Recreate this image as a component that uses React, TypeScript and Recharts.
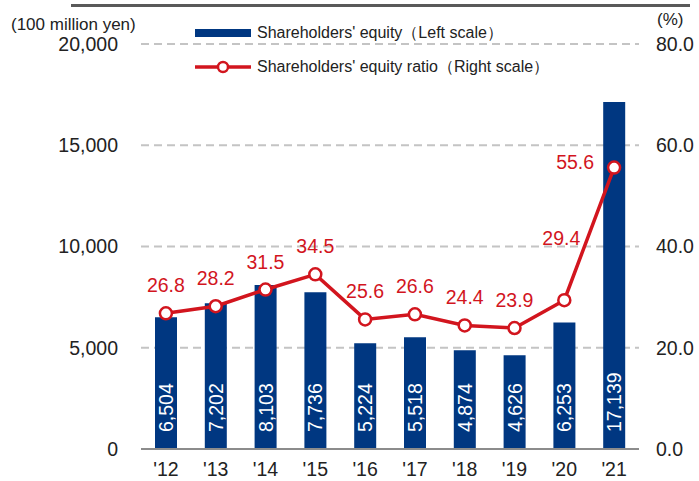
import { ComposedChart, Bar, Line, XAxis, YAxis, CartesianGrid, LabelList } from 'recharts';

const YEARS = ["'12", "'13", "'14", "'15", "'16", "'17", "'18", "'19", "'20", "'21"];
const EQUITY = [6504, 7202, 8103, 7736, 5224, 5518, 4874, 4626, 6253, 17139];
const RATIO = [26.8, 28.2, 31.5, 34.5, 25.6, 26.6, 24.4, 23.9, 29.4, 55.6];
const LEFT_TICKS = [0, 5000, 10000, 15000, 20000];
const RIGHT_TICKS = [0, 20, 40, 60, 80];

const BLUE = '#003781';
const RED = '#d2151e';
const FONT = '"Liberation Sans", Arial, sans-serif';

const data = YEARS.map((year, i) => ({ year, equity: EQUITY[i], ratio: RATIO[i] }));

// white value written upward inside the bar, starting near the bottom
const BarValue = (props: any) => {
  const { x, width, value, y, height } = props;
  const cx = x + width / 2;
  const by = y + height - 17;
  return (
    <text
      x={cx}
      y={by}
      transform={`rotate(-90 ${cx} ${by})`}
      textAnchor="start"
      dominantBaseline="central"
      fill="#fff"
      fontSize={19.5}
    >
      {value.toLocaleString('en-US')}
    </text>
  );
};

const RatioValue = (props: any) => {
  const { x, y, value, index } = props;
  let tx = x;
  let ty = y - 21;
  let anchor: 'middle' | 'end' = 'middle';
  if (index === 8) {
    tx = x - 3;
    ty = y - 55;
  }
  if (index === 9) {
    tx = x - 20;
    ty = y + 1;
    anchor = 'end';
  }
  return (
    <text x={tx} y={ty} textAnchor={anchor} fill={RED} fontSize={19.5}>
      {value.toFixed(1)}
    </text>
  );
};

export default function App() {
  return (
    <div style={{ position: 'absolute', left: 0, top: 0, width: 699, height: 481, fontFamily: FONT, background: '#fff' }}>
      <div style={{ position: 'absolute', left: 71, top: 4, width: 619, height: 3, background: '#595959' }} />
      <div style={{ position: 'absolute', left: 11, top: 15, fontSize: 17, lineHeight: '20px', color: '#222' }}>
        (100 million yen)
      </div>
      <div style={{ position: 'absolute', left: 657, top: 10, fontSize: 17, lineHeight: '20px', color: '#222' }}>(%)</div>

      <ComposedChart
        width={699}
        height={481}
        data={data}
        margin={{ top: 44, right: 0, bottom: 0, left: 0 }}
      >
        <CartesianGrid
          yAxisId="left"
          vertical={false}
          stroke="#c4c4c4"
          strokeWidth={2}
          strokeDasharray="8 5"
        />
        <XAxis
          dataKey="year"
          height={32}
          axisLine={{ stroke: '#8c8c8c', strokeWidth: 2 }}
          tickLine={false}
          tickMargin={7}
          tick={{ fill: '#222', fontSize: 19.5 }}
        />
        <YAxis
          yAxisId="left"
          width={141}
          domain={[0, 20000]}
          ticks={LEFT_TICKS}
          axisLine={false}
          tickLine={false}
          tickMargin={17}
          tick={{ fill: '#222', fontSize: 19.5 }}
          tickFormatter={(v: number) => v.toLocaleString('en-US')}
        />
        <YAxis
          yAxisId="right"
          orientation="right"
          width={60}
          domain={[0, 80]}
          ticks={RIGHT_TICKS}
          axisLine={false}
          tickLine={false}
          tickMargin={11}
          tick={{ fill: '#222', fontSize: 19.5 }}
          tickFormatter={(v: number) => v.toFixed(1)}
        />
        <Bar yAxisId="left" dataKey="equity" fill={BLUE} barSize={22} isAnimationActive={false}>
          <LabelList dataKey="equity" content={BarValue} />
        </Bar>
        <Line
          yAxisId="right"
          dataKey="ratio"
          stroke={RED}
          strokeWidth={3.5}
          dot={{ r: 6, fill: '#fff', stroke: RED, strokeWidth: 2.5 }}
          isAnimationActive={false}
          label={RatioValue}
        />
      </ComposedChart>

      <div style={{ position: 'absolute', left: 195, top: 16, fontSize: 16, color: '#222' }}>
        <div style={{ display: 'flex', alignItems: 'center', height: 34 }}>
          <span style={{ display: 'inline-block', width: 56, height: 8, background: BLUE, marginRight: 6 }} />
          Shareholders' equity（Left scale）
        </div>
        <div style={{ display: 'flex', alignItems: 'center', height: 34 }}>
          <svg width={56} height={16} style={{ marginRight: 6 }}>
            <line x1={0} y1={8} x2={56} y2={8} stroke={RED} strokeWidth={3.5} />
            <circle cx={28} cy={8} r={5} fill="#fff" stroke={RED} strokeWidth={2.5} />
          </svg>
          Shareholders' equity ratio（Right scale）
        </div>
      </div>
    </div>
  );
}
